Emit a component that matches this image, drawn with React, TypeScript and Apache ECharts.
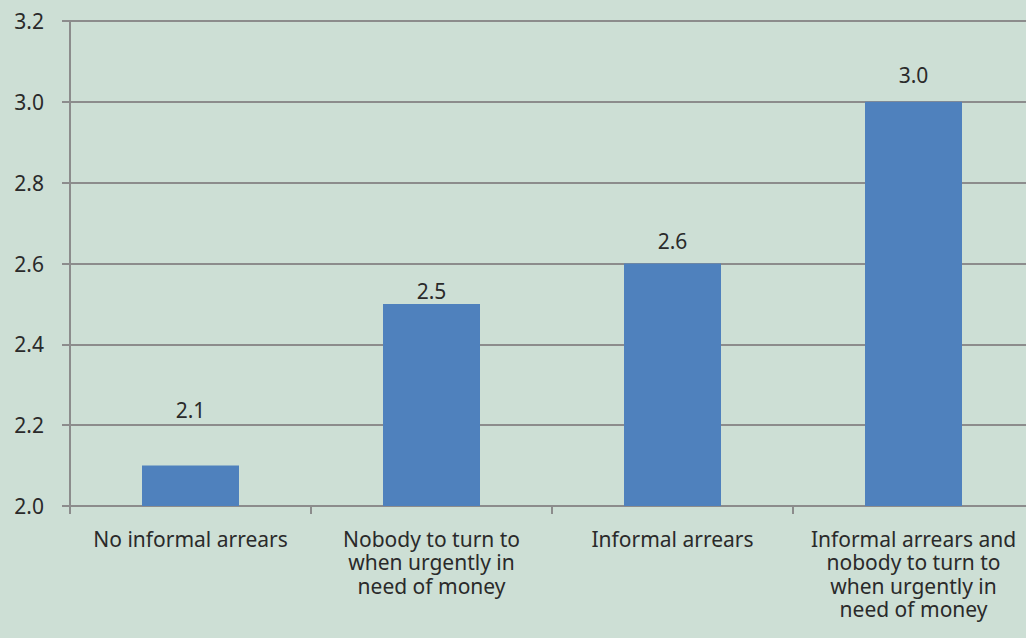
import React, { useEffect, useRef } from "react";
import * as echarts from "echarts";

const categories = [
  "No informal arrears",
  "Nobody to turn to\nwhen urgently in\nneed of money",
  "Informal arrears",
  "Informal arrears and\nnobody to turn to\nwhen urgently in\nneed of money",
];
const values = [2.1, 2.5, 2.6, 3.0];
const labelGaps = [45, 2, 12, 16];

export default function App() {
  const ref = useRef<HTMLDivElement>(null);
  useEffect(() => {
    if (!ref.current) return;
    const chart = echarts.init(ref.current, undefined, { renderer: "svg" });
    const font = "'Noto Sans', sans-serif";
    const gray = "#8c8c8c";
    const txt = "#2a2a2a";
    chart.setOption({
      animation: false,
      backgroundColor: "#cddfd5",
      grid: { left: 70, width: 964, top: 21, bottom: 132, outerBoundsMode: "none", containLabel: false },
      xAxis: {
        type: "category",
        data: categories,
        axisLine: { lineStyle: { color: gray, width: 2 } },
        axisTick: { show: true, length: 8, lineStyle: { color: gray, width: 2 } },
        axisLabel: {
          interval: 0,
          color: txt,
          fontFamily: font,
          fontSize: 21,
          lineHeight: 23.5,
          margin: 21,
        },
      },
      yAxis: {
        type: "value",
        min: 2.0,
        max: 3.2,
        interval: 0.2,
        axisLine: { show: true, lineStyle: { color: gray, width: 2 } },
        axisTick: { show: true, length: 8, lineStyle: { color: gray, width: 2 } },
        splitLine: { lineStyle: { color: gray, width: 2 } },
        axisLabel: {
          color: txt,
          fontFamily: font,
          fontSize: 21,
          margin: 26,
          formatter: (v: number) => v.toFixed(1),
        },
      },
      series: [
        {
          type: "bar",
          barWidth: 97,
          itemStyle: { color: "#4f81bd" },
          data: values.map((v, i) => ({
            value: v,
            label: {
              show: true,
              position: "top",
              distance: labelGaps[i],
              color: txt,
              fontFamily: font,
              fontSize: 21,
              formatter: (p: any) => Number(p.value).toFixed(1),
            },
          })),
        },
      ],
    });
    return () => chart.dispose();
  }, []);
  return <div ref={ref} style={{ width: 1026, height: 638, position: "absolute", left: 0, top: 0 }} />;
}
